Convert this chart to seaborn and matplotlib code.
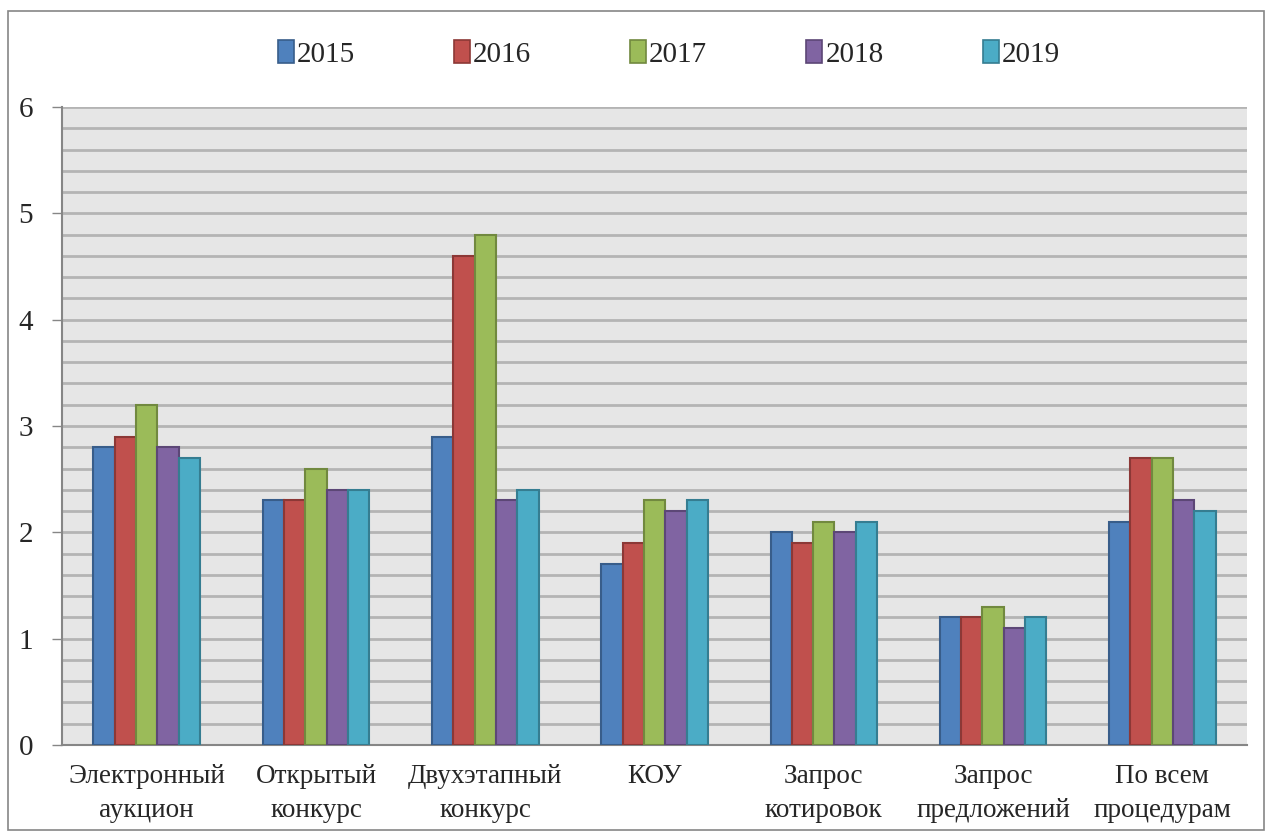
import numpy as np
import pandas as pd
import matplotlib.pyplot as plt
import seaborn as sns
from matplotlib.patches import Rectangle

# ── DATA ──────────────────────────────────────────────────────
categories = ["Электронный\nаукцион", "Открытый\nконкурс", "Двухэтапный\nконкурс",
              "КОУ", "Запрос\nкотировок", "Запрос\nпредложений", "По всем\nпроцедурам"]
years = ["2015", "2016", "2017", "2018", "2019"]
v2015 = [2.8, 2.3, 2.9, 1.7, 2.0, 1.2, 2.1]
v2016 = [2.9, 2.3, 4.6, 1.9, 1.9, 1.2, 2.7]
v2017 = [3.2, 2.6, 4.8, 2.3, 2.1, 1.3, 2.7]
v2018 = [2.8, 2.4, 2.3, 2.2, 2.0, 1.1, 2.3]
v2019 = [2.7, 2.4, 2.4, 2.3, 2.1, 1.2, 2.2]

colors = ["#4F81BD", "#C0504D", "#9BBB59", "#8064A2", "#4BACC6"]
edges = ["#385D8A", "#8C3836", "#71893F", "#5C4776", "#357D91"]

df = pd.DataFrame({
    "cat": categories * 5,
    "year": np.repeat(years, len(categories)),
    "val": v2015 + v2016 + v2017 + v2018 + v2019,
})

# ── PLOT ──────────────────────────────────────────────────────
sns.set_style("white")
plt.rcParams["font.family"] = ["Liberation Serif", "DejaVu Serif"]

fig = plt.figure(figsize=(12.69, 8.32), dpi=100)
ax = fig.add_axes([0.0489, 0.1046, 0.9338, 0.7668])
ax.set_facecolor("#E6E6E6")

sns.barplot(data=df, x="cat", y="val", hue="year", palette=colors,
            saturation=1, width=0.63, gap=0, ax=ax, zorder=3, legend=False)

for i, cont in enumerate(ax.containers):
    for bar in cont:
        bar.set_edgecolor(edges[i])
        bar.set_linewidth(1.5)

ax.set_ylim(0, 6)
ax.set_xlim(-0.5, 6.5)
ax.set_yticks(range(7))
ax.set_yticks(np.arange(0, 6.01, 0.2), minor=True)
ax.yaxis.grid(True, which="both", color="#B4B4B4", linewidth=2, zorder=0)
ax.set_axisbelow(True)
ax.tick_params(axis="y", which="major", length=7, width=1, color="#868686",
               labelsize=21, pad=14, left=True)
ax.tick_params(axis="y", which="minor", length=0)
ax.tick_params(axis="x", length=0, labelsize=19.5, pad=14)
for lab in ax.get_xticklabels():
    lab.set_linespacing(1.45)
ax.set_xlabel("")
ax.set_ylabel("")
for s in ["top", "right"]:
    ax.spines[s].set_visible(False)
for s in ["left", "bottom"]:
    ax.spines[s].set_color("#868686")
    ax.spines[s].set_linewidth(1.5)

handles = [Rectangle((0, 0), 1, 1, facecolor=c, edgecolor=e, linewidth=1.2)
           for c, e in zip(colors, edges)]
fig.legend(handles, years, loc="center", bbox_to_anchor=(0.527, 0.935), ncol=5,
           frameon=False, fontsize=21, handlelength=0.55, handleheight=0.8,
           handletextpad=0.1, columnspacing=3.4)

fig.add_artist(Rectangle((0.006, 0.002), 0.99, 0.985, transform=fig.transFigure,
                         fill=False, edgecolor="#868686", linewidth=1.2))

plt.savefig("out.png", dpi=100)
